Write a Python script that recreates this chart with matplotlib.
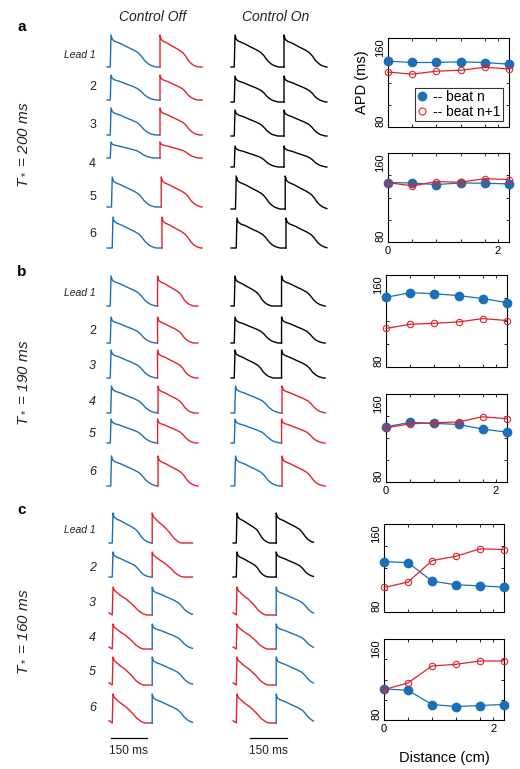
import numpy as np
import matplotlib
matplotlib.use('Agg')
import matplotlib.pyplot as plt
from matplotlib.lines import Line2D

plt.rcParams['font.family'] = ['Liberation Sans', 'DejaVu Sans']
plt.rcParams['mathtext.fontset'] = 'custom'
plt.rcParams['mathtext.it'] = 'Liberation Sans:italic'
plt.rcParams['mathtext.rm'] = 'Liberation Sans'

W, H = 520, 769
BLUE = '#1a6fb6'
RED = '#e2222b'
COLORS = {'b': BLUE, 'r': RED, 'k': 'black'}

# ---- data ----
T_STAR = [200, 190, 160]                       # ms, per section a/b/c
DIST = [0, 0.44, 0.88, 1.32, 1.76, 2.2]        # cm
LEAD_LABELS = ['Lead 1', '2', '3', '4', '5', '6']

# APD (ms) vs distance: beat n (blue) and beat n+1 (red)
APD_A_TOP_N = [139.2, 138.0, 138.0, 138.6, 137.9, 136.5]
APD_A_TOP_N1 = [129.4, 127.5, 130.2, 131.0, 133.7, 132.2]
APD_A_BOT_N = [133.4, 133.1, 131.6, 133.1, 132.8, 132.2]
APD_A_BOT_N1 = [133.4, 130.4, 134.3, 133.7, 137.0, 136.1]
APD_B_TOP_N = [140.6, 144.6, 143.7, 142.1, 139.5, 136.0]
APD_B_TOP_N1 = [113.5, 117.2, 118.0, 119.2, 122.1, 120.4]
APD_B_BOT_N = [130.2, 134.2, 133.3, 132.3, 128.1, 125.3]
APD_B_BOT_N1 = [129.3, 132.9, 133.8, 134.7, 139.3, 137.5]
APD_C_TOP_N = [125.8, 124.9, 108.1, 104.7, 103.8, 102.6]
APD_C_TOP_N1 = [102.3, 107.2, 126.7, 130.7, 137.4, 136.8]
APD_C_BOT_N = [110.7, 109.3, 95.3, 93.3, 94.3, 95.3]
APD_C_BOT_N1 = [110.0, 116.7, 133.3, 135.0, 138.3, 138.3]

# visible action potential durations (ms) of the two displayed beats, per lead
DUR_A_OFF = [[183, 183, 180, 176, 175, 176], [155, 153, 160, 160, 164, 157]]
DUR_A_ON = [[177, 176, 174, 176, 178, 175], [172, 170, 168, 172, 175, 170]]
DUR_B_OFF = [[183, 179, 183, 185, 185, 186], [146, 146, 153, 146, 155, 158]]
DUR_B_ON = [[149, 176, 156, 183, 183, 176], [175, 172, 170, 176, 172, 170]]
DUR_C_OFF = [[155, 150, 137, 124, 124, 130], [118, 125, 175, 175, 175, 175]]
DUR_C_ON = [[133, 126, 117, 124, 126, 130], [160, 160, 175, 175, 175, 175]]

# activation delay of each lead (ms)
DELAY_A = [0, 0, 0, 0, 5, 8]
DELAY_B = [0, 0, 0, 2, 0, 2]
DELAY_C = [0, 0, 0, 0, 0, 0]

# residual voltage at window start (fraction of amplitude)
PRE_A = [0, 0, 0, 0, 0, 0]
PRE_B = [0, 0, 0, 0, 0, 0]
PRE_C = [0, 0, 0.08, 0.08, 0.08, 0.08]

# colours of the two beats per lead
COL_A_OFF = ['br'] * 6
COL_A_ON = ['kk'] * 6
COL_B_OFF = ['br'] * 6
COL_B_ON = ['kk', 'kk', 'kk', 'br', 'br', 'br']
COL_C_OFF = ['br', 'br', 'rb', 'rb', 'rb', 'rb']
COL_C_ON = ['kk', 'kk', 'rb', 'rb', 'rb', 'rb']

# normalised AP shapes (fraction of duration, fraction of amplitude)
SHAPE_LONG = [(0, 1.0), (0.03, 0.86), (0.09, 0.80), (0.2, 0.74), (0.34, 0.64),
              (0.49, 0.54), (0.6, 0.45), (0.67, 0.35), (0.75, 0.2),
              (0.82, 0.11), (0.89, 0.05), (1.0, 0.0)]
SHAPE_SHORT = [(0, 1.0), (0.04, 0.88), (0.22, 0.70), (0.41, 0.55),
               (0.61, 0.34), (0.75, 0.16), (0.9, 0.04), (1.0, 0.0)]

# ---- layout (pixels) ----
PRE = 16
SCALE = 0.245
ROWS_A_OFF = [(35, 67), (75, 100), (108, 135), (142, 158), (177, 207), (217, 248)]
ROWS_A_ON = [(35, 67), (76, 102), (110, 136), (146, 167), (176, 209), (218, 248)]
ROWS_B = [(276, 306), (317, 343), (350, 378), (386, 413), (419, 443), (456, 486)]
ROWS_C = [(513, 543), (552, 577), (587, 615), (624, 649), (657, 685), (694, 723)]
LABEL_Y_A = [55, 87, 125, 164, 197, 234]
LABEL_Y_B = [293, 331, 366, 402, 434, 472]
LABEL_Y_C = [530, 568, 603, 638, 672, 708]

fig = plt.figure(figsize=(W / 100, H / 100), dpi=100)


def px_axes(x0, y0, x1, y1):
    return fig.add_axes([x0 / W, 1 - y1 / H, (x1 - x0) / W, (y1 - y0) / H])


def beat(t_on, dur, shape, t_off):
    ts = t_on + dur * np.array([p[0] for p in shape])
    vs = np.array([p[1] for p in shape])
    keep = ts < t_off
    tt, vv = list(ts[keep]), list(vs[keep])
    end_v = 0.0 if keep.all() else float(np.interp(t_off, ts, vs))
    tt.append(t_off)
    vv.append(end_v)
    return tt, vv


def draw_trace(box_y, up_px, T, post, d1, d2, cols, delay, pre):
    x0 = up_px - PRE * SCALE
    x1 = up_px + (T + post) * SCALE
    ax = px_axes(x0, box_y[0], x1, box_y[1])
    ax.set_xlim(-PRE, T + post)
    ax.set_ylim(0, 1)
    ax.axis('off')
    c1, c2 = COLORS[cols[0]], COLORS[cols[1]]
    s1 = SHAPE_SHORT if (cols[0] == 'r' and T == 160) else SHAPE_LONG
    s2 = SHAPE_SHORT if (cols[1] == 'r' and T == 160) else SHAPE_LONG
    t1, v1 = beat(delay, d1, s1, T + delay)
    t1 = [-PRE, delay - 3] + t1
    v1 = [pre, 0.0] + v1
    t2, v2 = beat(T + delay, d2, s2, T + post)
    t2 = [T + delay] + t2
    v2 = [v1[-1]] + v2
    ax.plot(t1, v1, color=c1, lw=1.0, clip_on=False, solid_joinstyle='round')
    ax.plot(t2, v2, color=c2, lw=1.0, clip_on=False, solid_joinstyle='round')
    return ax


def apd_panel(box, vals_n, vals_n1, show_x):
    ax = px_axes(*box)
    ax.plot(DIST, vals_n, '-o', color=BLUE, ms=6, lw=0.9, clip_on=False, zorder=3)
    ax.plot(DIST, vals_n1, '-o', color=RED, mfc='none', ms=4.6, mew=0.8, lw=0.9,
            clip_on=False, zorder=4)
    ax.set_xlim(0, 2.2)
    ax.set_ylim(80, 160)
    ax.set_yticks([80, 160])
    ax.set_yticks([100, 120, 140], minor=True)
    ax.set_xticks([0, 2])
    ax.set_xticks(DIST[1:-1], minor=True)
    ax.tick_params(which='both', direction='in', top=True, right=True,
                   length=2.5, width=0.6, labelsize=8)
    ax.tick_params(axis='y', pad=2)
    ax.tick_params(axis='x', pad=3)
    labs = ax.set_yticklabels(['80', '160'], rotation=90)
    labs[0].set_va('bottom')
    labs[1].set_va('top')
    if not show_x:
        ax.set_xticklabels([])
    for s in ax.spines.values():
        s.set_linewidth(0.8)
    return ax


sections = [
    ('a', 27, ROWS_A_OFF, ROWS_A_ON, LABEL_Y_A, DUR_A_OFF, DUR_A_ON, COL_A_OFF,
     COL_A_ON, DELAY_A, PRE_A, (111, 172), (235, 175), 145, False),
    ('b', 272, ROWS_B, ROWS_B, LABEL_Y_B, DUR_B_OFF, DUR_B_ON, COL_B_OFF,
     COL_B_ON, DELAY_B, PRE_B, (111, 165), (235, 178), 383, True),
    ('c', 510, ROWS_C, ROWS_C, LABEL_Y_C, DUR_C_OFF, DUR_C_ON, COL_C_OFF,
     COL_C_ON, DELAY_C, PRE_C, (113, 164), (237, 152), 632, True),
]

for k, (letter, ly, rows_off, rows_on, label_y, d_off, d_on, c_off, c_on,
        delay, pre, off_x, on_x, t_y, ital) in enumerate(sections):
    T = T_STAR[k]
    fig.text(17 / W, 1 - ly / H, letter, fontsize=11, fontweight='bold',
             ha='left', va='center')
    fig.text(22 / W, 1 - t_y / H, r'$T_*$ = %d ms' % T, rotation=90,
             fontsize=11, style='italic', ha='center', va='center', color='#222222')
    for r in range(6):
        draw_trace(rows_off[r], off_x[0], T, off_x[1], d_off[0][r], d_off[1][r],
                   c_off[r], delay[r], pre[r])
        draw_trace(rows_on[r], on_x[0], T, on_x[1], d_on[0][r], d_on[1][r],
                   c_on[r], delay[r], pre[r])
        lab = LEAD_LABELS[r]
        italic = r == 0 or (ital and not (letter == 'b' and r == 1))
        fig.text(96 / W, 1 - label_y[r] / H, lab,
                 fontsize=7.5 if r == 0 else 9,
                 style='italic' if italic else 'normal',
                 ha='right', va='center', color='#222222')

fig.text(153 / W, 1 - 17 / H, 'Control Off', fontsize=10, style='italic',
         ha='center', va='center', color='#222222')
fig.text(276 / W, 1 - 17 / H, 'Control On', fontsize=10, style='italic',
         ha='center', va='center', color='#222222')

# APD panels
ax_a1 = apd_panel((388, 38, 509, 127), APD_A_TOP_N, APD_A_TOP_N1, False)
apd_panel((388, 153, 509, 242), APD_A_BOT_N, APD_A_BOT_N1, True)
apd_panel((386, 275, 507, 367), APD_B_TOP_N, APD_B_TOP_N1, False)
apd_panel((386, 394, 507, 482), APD_B_BOT_N, APD_B_BOT_N1, True)
apd_panel((384, 524, 504, 612), APD_C_TOP_N, APD_C_TOP_N1, False)
ax_c2 = apd_panel((384, 639, 504, 720), APD_C_BOT_N, APD_C_BOT_N1, True)

ax_a1.set_ylabel('APD (ms)', fontsize=10.5)
ax_a1.yaxis.set_label_coords(-0.16, 0.5)
ax_c2.set_xlabel('Distance (cm)', fontsize=10.5)
ax_c2.xaxis.set_label_coords(0.5, -0.38)

handles = [Line2D([], [], marker='o', ls='none', color=BLUE, ms=6),
           Line2D([], [], marker='o', ls='none', color=RED, mfc='none', ms=5, mew=0.8)]
leg = ax_a1.legend(handles, ['-- beat n', '-- beat n+1'], loc='lower right',
                   fontsize=10, frameon=True, fancybox=False, edgecolor='black',
                   handlelength=0.8, handletextpad=0.4, borderpad=0.15,
                   labelspacing=0.05, borderaxespad=0.45)
leg.get_frame().set_linewidth(0.8)

# 150 ms scale bars under section c
SCALEBAR_MS = 150
for up_px, post, start in [(113, 164, -10), (237, 152, 55)]:
    T = T_STAR[2]
    ax = px_axes(up_px - PRE * SCALE, 735, up_px + (T + post) * SCALE, 741)
    ax.set_xlim(-PRE, T + post)
    ax.set_ylim(-1, 1)
    ax.axis('off')
    ax.plot([start, start + SCALEBAR_MS], [0, 0], color='black', lw=0.9, clip_on=False)
    ax.text(start + SCALEBAR_MS / 2, -2.5, '150 ms', fontsize=8.5, ha='center',
            va='top', color='#222222')

fig.savefig('out.png', dpi=100)
